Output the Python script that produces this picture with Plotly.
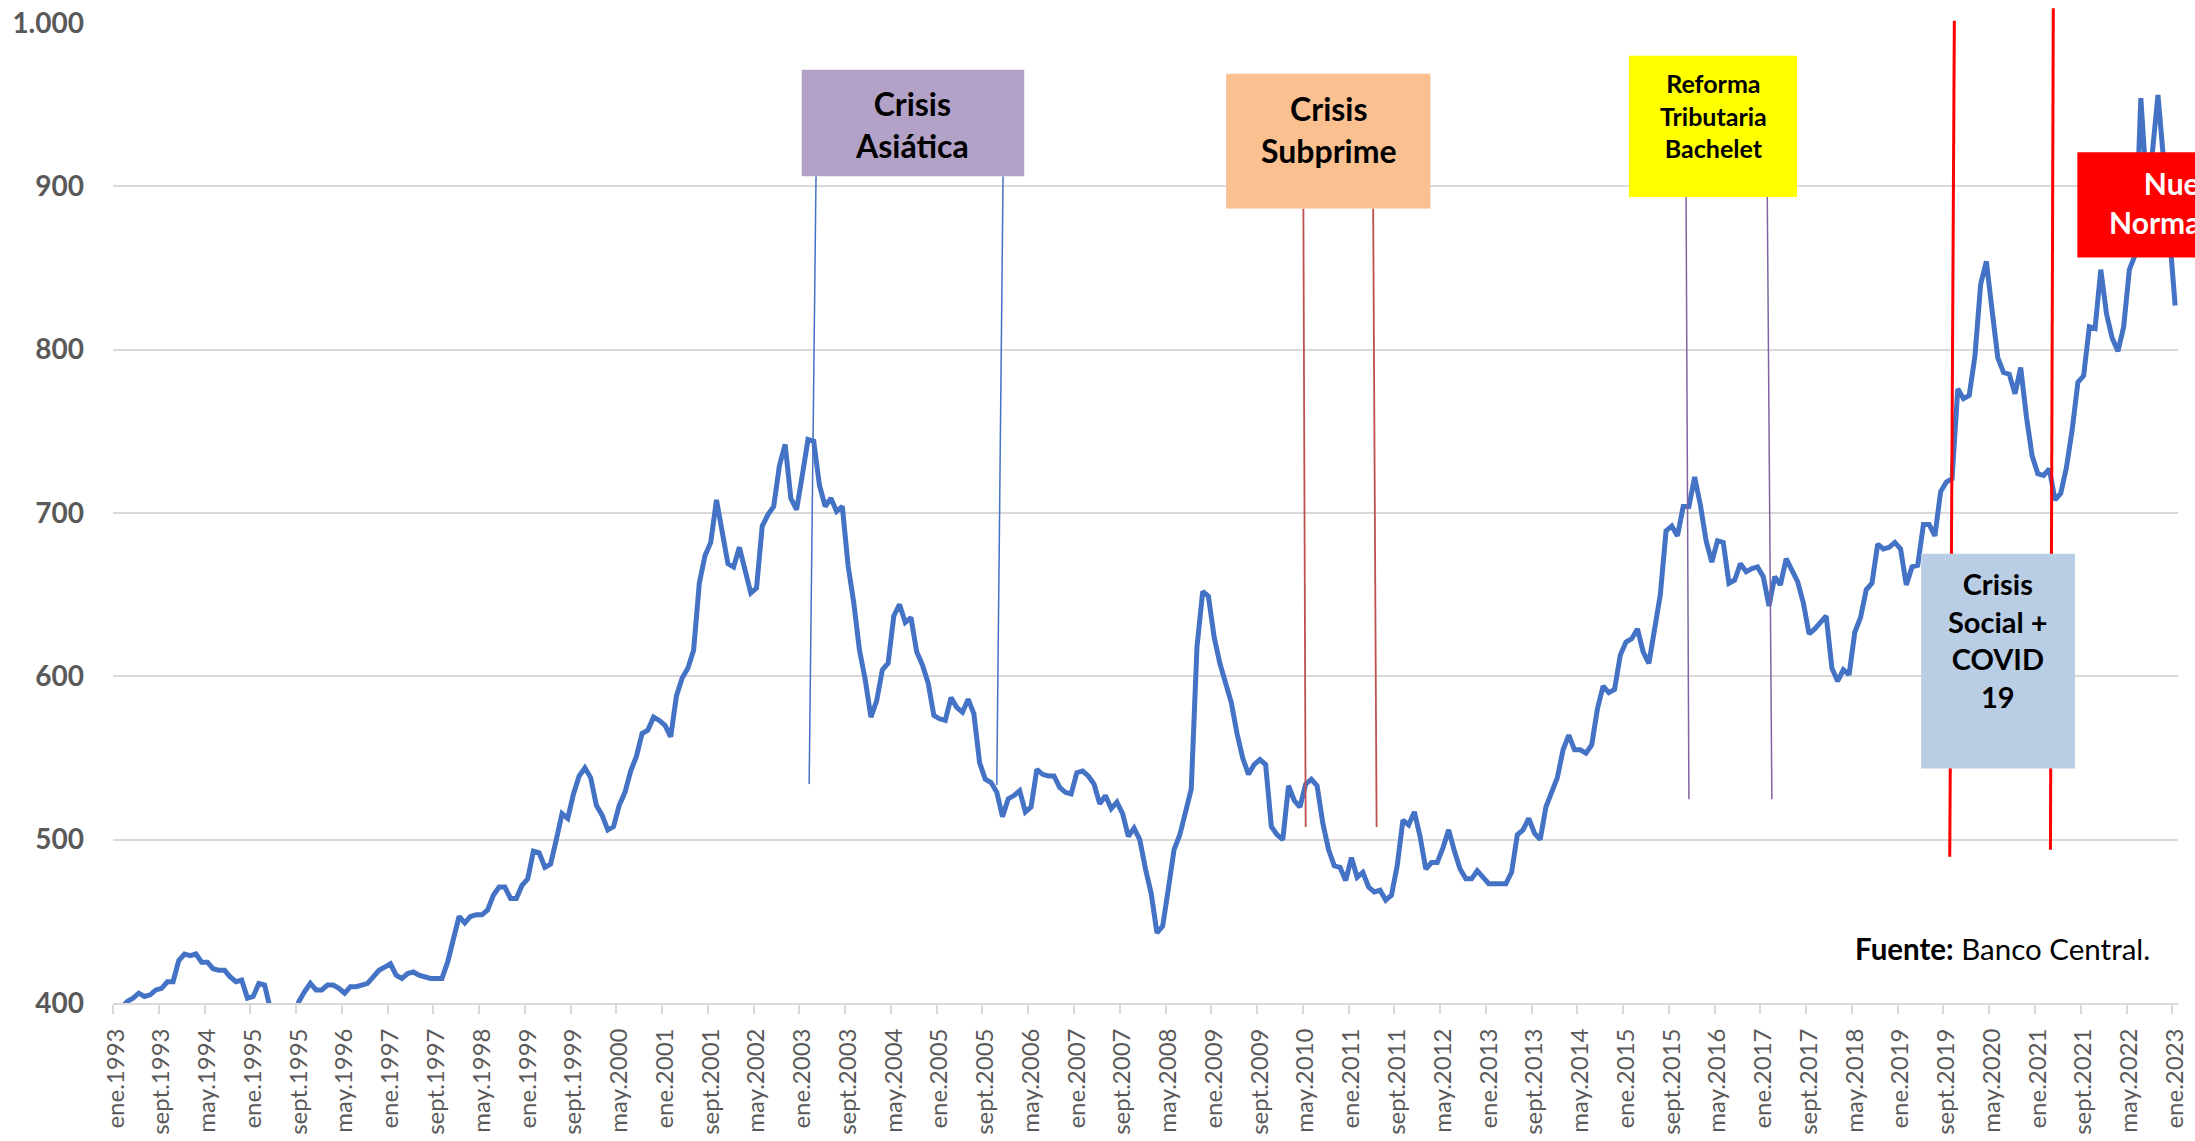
import plotly.graph_objects as go

# Tipo de cambio observado (CLP por USD), promedio mensual, ene.1993 - ene.2023
dolar_1993_1999 = [
    386, 397, 401, 403, 406, 404, 405, 408, 409, 413, 413, 426,  # 1993
    430, 429, 430, 425, 425, 421, 420, 420, 416, 413, 414, 403,  # 1994
    404, 412, 411, 395, 382, 377, 375, 388, 401, 407, 412, 408,  # 1995
    408, 411, 411, 409, 406, 410, 410, 411, 412, 416, 420, 422,  # 1996
    424, 417, 415, 418, 419, 417, 416, 415, 415, 415, 425, 438,  # 1997
    453, 449, 453, 454, 454, 457, 466, 471, 471, 464, 464, 472,  # 1998
    476, 493, 492, 483, 485, 500, 516, 513, 528, 539, 544, 538,  # 1999
]
dolar_2000_2006 = [
    521, 515, 506, 508, 521, 529, 542, 551, 565, 567, 575, 573,  # 2000
    570, 563, 588, 599, 605, 616, 657, 674, 682, 708, 688, 669,  # 2001
    667, 679, 665, 651, 654, 692, 699, 704, 729, 742, 709, 702,  # 2002
    723, 745, 744, 717, 704, 709, 701, 704, 668, 645, 616, 598,  # 2003
    575, 585, 604, 608, 637, 644, 633, 636, 615, 607, 596, 576,  # 2004
    574, 573, 587, 581, 578, 586, 577, 547, 537, 535, 529, 514,  # 2005
    525, 527, 530, 517, 520, 543, 540, 539, 539, 532, 529, 528,  # 2006
]
dolar_2007_2013 = [
    541, 542, 539, 534, 522, 527, 519, 523, 516, 502, 507, 500,  # 2007
    482, 467, 443, 447, 470, 494, 503, 516, 531, 618, 652, 649,  # 2008
    624, 608, 596, 584, 565, 550, 540, 546, 549, 546, 508, 503,  # 2009
    500, 533, 524, 520, 534, 537, 533, 510, 494, 484, 483, 475,  # 2010
    489, 477, 480, 471, 468, 469, 463, 466, 484, 512, 509, 517,  # 2011
    502, 482, 486, 486, 495, 506, 493, 482, 476, 476, 481, 477,  # 2012
    473, 473, 473, 473, 480, 503, 506, 513, 504, 500, 520, 530,  # 2013
]
dolar_2014_2020 = [
    538, 555, 564, 555, 555, 553, 558, 580, 594, 590, 592, 613,  # 2014
    621, 623, 629, 615, 608, 629, 650, 689, 692, 686, 704, 704,  # 2015
    722, 705, 683, 670, 683, 682, 657, 659, 669, 664, 666, 667,  # 2016
    661, 643, 661, 656, 672, 665, 658, 645, 626, 629, 633, 637,  # 2017
    605, 597, 604, 601, 627, 636, 653, 657, 681, 678, 679, 682,  # 2018
    678, 656, 667, 668, 693, 693, 686, 713, 719, 721, 776, 770,  # 2019
    772, 796, 840, 854, 824, 795, 786, 785, 773, 789, 759, 735,  # 2020
]
dolar_2021_2023 = [
    724, 723, 727, 708, 712, 728, 751, 780, 784, 814, 813, 849,  # 2021
    822, 807, 799, 814, 849, 858, 954, 900, 920, 956, 915, 868,  # 2022
    827,                                                         # 2023
]

etiquetas_x = [
    "ene.1993", "sept.1993", "may.1994", "ene.1995", "sept.1995", "may.1996",
    "ene.1997", "sept.1997", "may.1998", "ene.1999", "sept.1999", "may.2000",
    "ene.2001", "sept.2001", "may.2002", "ene.2003", "sept.2003", "may.2004",
    "ene.2005", "sept.2005", "may.2006", "ene.2007", "sept.2007", "may.2008",
    "ene.2009", "sept.2009", "may.2010", "ene.2011", "sept.2011", "may.2012",
    "ene.2013", "sept.2013", "may.2014", "ene.2015", "sept.2015", "may.2016",
    "ene.2017", "sept.2017", "may.2018", "ene.2019", "sept.2019", "may.2020",
    "ene.2021", "sept.2021", "may.2022", "ene.2023",
]
valores_y = [400, 500, 600, 700, 800, 900, 1000]
etiquetas_y = ["400", "500", "600", "700", "800", "900", "1.000"]

dolar = dolar_1993_1999 + dolar_2000_2006 + dolar_2007_2013 + dolar_2014_2020 + dolar_2021_2023
meses = list(range(len(dolar)))
N = len(dolar)
X_MIN, X_MAX = -0.5, N - 0.5          # cada mes ocupa una categoría completa
Y_MIN, Y_MAX = 400, 1000
paso_etiquetas = 8

FUENTE = "Lato"
GRIS = "#595959"
GRILLA = "#D9D9D9"


def px(mes):
    """Mes (índice) -> coordenada paper horizontal."""
    return (mes - X_MIN) / (X_MAX - X_MIN)


def py(valor):
    """Pesos por dólar -> coordenada paper vertical."""
    return (valor - Y_MIN) / (Y_MAX - Y_MIN)


fig = go.Figure()
fig.add_trace(go.Scatter(
    x=meses, y=dolar, mode="lines",
    line=dict(color="#4472C4", width=5),
    showlegend=False, hoverinfo="skip",
))

# Líneas verticales que marcan cada episodio (mes, valor arriba -> mes, valor abajo)
marcas = [
    (122.4, 906.2, 121.2, 534.0, "#4472C4", 1.5),
    (155.1, 906.2, 154.0, 533.4, "#4472C4", 1.5),
    (207.6, 886.5, 208.0, 507.8, "#C0504D", 1.8),
    (219.8, 886.5, 220.4, 507.8, "#C0504D", 1.8),
    (274.5, 893.4, 275.0, 524.7, "#8064A2", 1.5),
    (288.7, 893.4, 289.5, 524.7, "#8064A2", 1.5),
    (321.4, 1001.4, 320.6, 489.6, "#FF0000", 3),
    (338.7, 1009.0, 338.2, 493.8, "#FF0000", 3),
]
shapes = []
for m0, v0, m1, v1, col, w in marcas:
    shapes.append(dict(type="line", xref="paper", yref="paper",
                       x0=px(m0), y0=py(v0), x1=px(m1), y1=py(v1),
                       line=dict(color=col, width=w), layer="above"))

# Recuadros con el nombre de cada episodio
recuadros = [
    dict(texto="Crisis<br>Asiática", m=(119.9, 158.8), v=(906.2, 971.4),
         fondo="#B3A2C7", color="black", size=32, tm=139.2, tv=938),
    dict(texto="Crisis<br>Subprime", m=(194.1, 229.8), v=(886.5, 969.0),
         fondo="#FAC090", color="black", size=32, tm=212.0, tv=934.7),
    dict(texto="Reforma<br>Tributaria<br>Bachelet", m=(264.5, 293.9), v=(893.4, 980.0),
         fondo="#FFFF00", color="black", size=25, tm=279.3, tv=943.2),
    dict(texto="Crisis<br>Social +<br>COVID<br>19", m=(315.6, 342.5), v=(543.6, 675.0),
         fondo="#B9CDE5", color="black", size=29, tm=329.1, tv=622.0),
    dict(texto="Nueva<br>Normalidad", m=(342.9, 382.0), v=(856.5, 920.8),
         fondo="#FF0000", color="white", size=30, tm=362.0, tv=889.8),
]
annotations = []
for r in recuadros:
    shapes.append(dict(type="rect", xref="paper", yref="paper",
                       x0=px(r["m"][0]), x1=px(r["m"][1]),
                       y0=py(r["v"][0]), y1=py(r["v"][1]),
                       fillcolor=r["fondo"], line=dict(width=0), layer="above"))
    annotations.append(dict(xref="paper", yref="paper", x=px(r["tm"]), y=py(r["tv"]),
                            text=r["texto"], showarrow=False, align="center",
                            xanchor="center", yanchor="middle",
                            font=dict(family=FUENTE, size=r["size"], color=r["color"],
                                      weight="bold")))

annotations.append(dict(xref="paper", yref="paper", x=px(303.7), y=py(433.2),
                        text="<b>Fuente:</b> Banco Central.", showarrow=False,
                        xanchor="left", yanchor="middle",
                        font=dict(family=FUENTE, size=29.5, color="black")))

# Marcas del eje en los límites entre categorías, cada 8 meses
limites_x = [v - 0.5 for v in meses[::paso_etiquetas]]

fig.update_layout(
    width=2195, height=1141,
    margin=dict(l=113, r=17, t=23, b=138),
    paper_bgcolor="white", plot_bgcolor="white",
    shapes=shapes, annotations=annotations,
    xaxis=dict(
        range=[X_MIN, X_MAX],
        automargin=False,
        tickmode="array",
        tickvals=meses[::paso_etiquetas],
        ticktext=etiquetas_x,
        tickangle=-90,
        tickfont=dict(family=FUENTE, size=24, color=GRIS),
        ticks="", ticklabelstandoff=14,
        minor=dict(tickmode="array", tickvals=limites_x, ticks="outside",
                   ticklen=9, tickwidth=1.8, tickcolor=GRILLA, showgrid=False),
        showgrid=False, zeroline=False,
        showline=True, linecolor=GRILLA, linewidth=1.8,
    ),
    yaxis=dict(
        range=[Y_MIN, Y_MAX],
        automargin=False,
        tickmode="array",
        tickvals=valores_y,
        ticktext=etiquetas_y,
        tickfont=dict(family=FUENTE, size=28, color=GRIS, weight="bold"),
        ticks="", ticklabelstandoff=28,
        showgrid=True, gridcolor=GRILLA, gridwidth=1.8,
        zeroline=False, showline=False,
    ),
)

fig.write_html("out.html")
